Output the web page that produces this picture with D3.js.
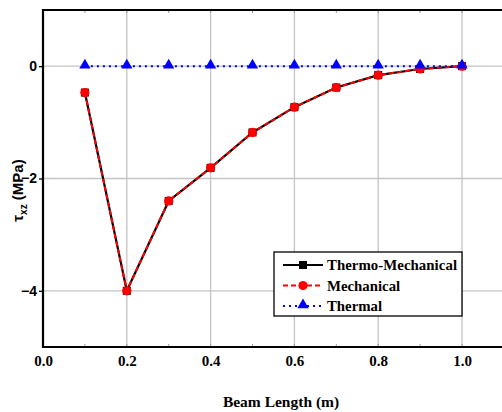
<!DOCTYPE html>
<html><head><meta charset="utf-8">
<script src="https://cdn.jsdelivr.net/npm/d3@7"></script>
<style>body{margin:0;background:#fff}svg{display:block}</style>
</head><body>
<svg id="c" width="502" height="412"></svg>
<script>
const xValues = [0.1,0.2,0.3,0.4,0.5,0.6,0.7,0.8,0.9,1.0];
const thermoMechanical = [-0.47,-4.0,-2.4,-1.81,-1.18,-0.73,-0.38,-0.16,-0.05,0];
const mechanical = [-0.47,-4.0,-2.4,-1.81,-1.18,-0.73,-0.38,-0.16,-0.05,0];
const thermal = [0,0,0,0,0,0,0,0,0,0];
const xTicks = [0,0.2,0.4,0.6,0.8,1.0];
const yTicks = [0,-2,-4];
const seriesNames = ["Thermo-Mechanical","Mechanical","Thermal"];

const svg = d3.select("#c");
const L=43, T=10, B=347;
const x = d3.scaleLinear().domain([0,1.1]).range([L, L+83.8*5.5]);
const y = d3.scaleLinear().domain([-5,1]).range([B, T]);

// grid
svg.append("g").selectAll("line").data(xTicks.slice(1)).join("line")
  .attr("x1",d=>x(d)).attr("x2",d=>x(d)).attr("y1",T).attr("y2",B)
  .attr("stroke","#c4c4c4").attr("stroke-width",1.3);
svg.append("g").selectAll("line").data(yTicks).join("line")
  .attr("x1",L).attr("x2",x(1.1)).attr("y1",d=>y(d)).attr("y2",d=>y(d))
  .attr("stroke","#c4c4c4").attr("stroke-width",1.3);

// minor ticks top/bottom
const minor = d3.range(0.1,1.1,0.1);
svg.append("g").selectAll("line").data(minor).join("line")
  .attr("x1",d=>x(d)).attr("x2",d=>x(d)).attr("y1",T).attr("y2",T+3)
  .attr("stroke","#999").attr("stroke-width",1);
svg.append("g").selectAll("line").data(minor).join("line")
  .attr("x1",d=>x(d)).attr("x2",d=>x(d)).attr("y1",B).attr("y2",B-3)
  .attr("stroke","#999").attr("stroke-width",1);

// frame
svg.append("path").attr("d",`M${x(1.1)},${T}H${L}V${B}H${x(1.1)}`)
  .attr("fill","none").attr("stroke","#000").attr("stroke-width",2.2);

// axis labels
const xAxis = d3.axisBottom(x).tickValues(xTicks).tickFormat(d3.format(".1f")).tickSize(0).tickPadding(8);
const gx = svg.append("g").attr("transform",`translate(0,${B})`).call(xAxis);
gx.select(".domain").remove();
gx.selectAll("text").attr("font-family","Liberation Serif").attr("font-weight","bold").attr("font-size",15).attr("fill","#000");
const yAxis = d3.axisLeft(y).tickValues(yTicks).tickFormat(d=>d===0?"0":d3.format("d")(d)).tickSize(4).tickPadding(2);
const gy = svg.append("g").attr("transform",`translate(${L},0)`).call(yAxis);
gy.select(".domain").remove();
gy.selectAll("line").attr("stroke","#000").attr("stroke-width",1.3);
gy.selectAll("text").attr("font-family","Liberation Sans").attr("font-weight","bold").attr("font-size",14).attr("fill","#000");

svg.append("text").attr("x",281).attr("y",407).attr("text-anchor","middle")
  .attr("font-family","Liberation Serif").attr("font-weight","bold").attr("font-size",15.5).text("Beam Length (m)");
const yl = svg.append("text").attr("transform",`translate(23,${y(-2)+12}) rotate(-90)`).attr("text-anchor","middle")
  .attr("font-family","Liberation Sans").attr("font-weight","bold").attr("font-size",15);
yl.append("tspan").text("τ");
yl.append("tspan").attr("font-size",10).attr("dy",4).text("xz");
yl.append("tspan").attr("dy",-4).text(" (MPa)");

const line = d3.line().x((d,i)=>x(xValues[i])).y(d=>y(d));
// Thermo-mechanical
svg.append("path").datum(thermoMechanical).attr("d",line).attr("fill","none").attr("stroke","#000").attr("stroke-width",2.2);
svg.append("g").selectAll("rect").data(thermoMechanical).join("rect")
  .attr("x",(d,i)=>x(xValues[i])-4).attr("y",d=>y(d)-4).attr("width",8).attr("height",8).attr("fill","#000");
// Mechanical
svg.append("path").datum(mechanical).attr("d",line).attr("fill","none").attr("stroke","#ff0000").attr("stroke-width",2).attr("stroke-dasharray","5,3");
svg.append("g").selectAll("circle").data(mechanical).join("circle")
  .attr("cx",(d,i)=>x(xValues[i])).attr("cy",d=>y(d)).attr("r",4.6).attr("fill","#ff0000");
// Thermal
svg.append("path").datum(thermal).attr("d",line).attr("fill","none").attr("stroke","#0000ff").attr("stroke-width",2).attr("stroke-dasharray","2,4");
const tri = d3.symbol().type(d3.symbolTriangle).size(55);
svg.append("g").selectAll("path").data(thermal).join("path")
  .attr("d",tri).attr("transform",(d,i)=>`translate(${x(xValues[i])},${y(d)-1})`).attr("fill","#0000ff");

// legend
const lg = svg.append("g").attr("transform","translate(274,252)");
lg.append("rect").attr("width",188).attr("height",64).attr("fill","#fff").attr("stroke","#000").attr("stroke-width",1.3);
const styles = [
  {c:"#000",dash:null,m:"sq"},
  {c:"#ff0000",dash:"5,3",m:"ci"},
  {c:"#0000ff",dash:"2,4",m:"tr"}];
seriesNames.forEach((n,i)=>{
  const yy = 13+i*20.5;
  const s = styles[i];
  lg.append("line").attr("x1",9).attr("x2",49).attr("y1",yy).attr("y2",yy)
    .attr("stroke",s.c).attr("stroke-width",2).attr("stroke-dasharray",s.dash);
  if(s.m==="sq") lg.append("rect").attr("x",25).attr("y",yy-4).attr("width",8).attr("height",8).attr("fill",s.c);
  if(s.m==="ci") lg.append("circle").attr("cx",29).attr("cy",yy).attr("r",4.6).attr("fill",s.c);
  if(s.m==="tr") lg.append("path").attr("d",tri).attr("transform",`translate(29,${yy-1})`).attr("fill",s.c);
  lg.append("text").attr("x",53).attr("y",yy+5).attr("font-family","Liberation Serif").attr("font-weight","bold")
    .attr("font-size",14.8).attr("textLength", i===0?130:null).text(n);
});
</script>
</body></html>
